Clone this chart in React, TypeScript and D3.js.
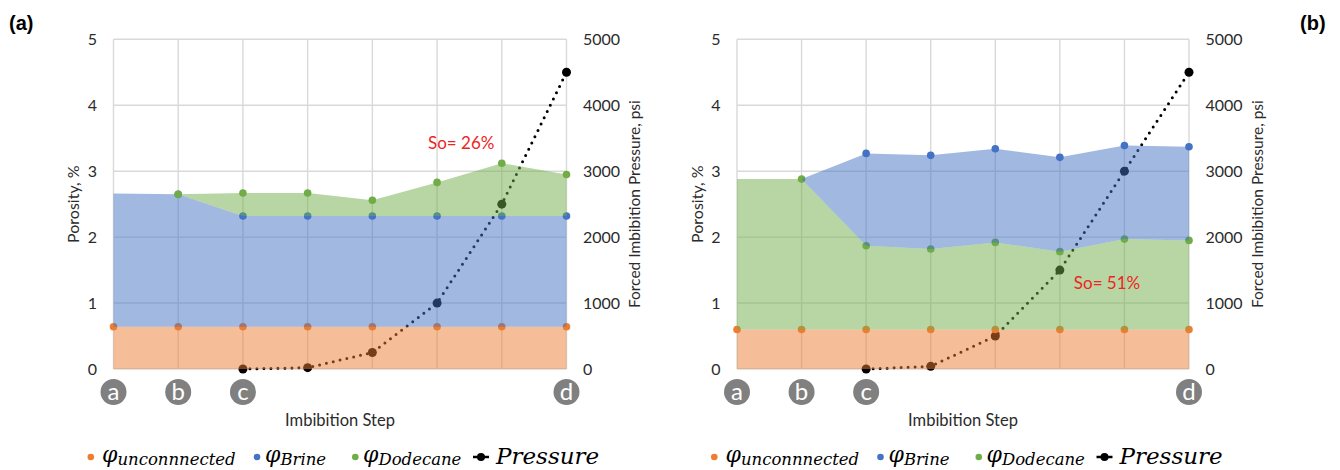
import React from 'react';
import * as d3 from 'd3';

// ---------- data ----------
const steps = ['1', '2', '3', '4', '5', '6', '7', '8'];
const badgeLabels = ['a', 'b', 'c', 'd'];
const badgeSteps = ['1', '2', '3', '8'];
const porosityTicks = [0, 1, 2, 3, 4, 5];
const pressureTicks = [0, 1000, 2000, 3000, 4000, 5000];

// panel (a) — stacked porosity segments, %
const unconnectedA = [0.64, 0.64, 0.64, 0.64, 0.64, 0.64, 0.64, 0.64];
const brineA = [2.02, 2.01, 1.68, 1.68, 1.68, 1.68, 1.68, 1.68];
const dodecaneA = [0, 0, 0.35, 0.35, 0.24, 0.51, 0.8, 0.63];
const pressureA: (number | null)[] = [null, null, 0, 20, 250, 1000, 2500, 4500];
const soLabelA = 'So= 26%';

// panel (b)
const unconnectedB = [0.6, 0.6, 0.6, 0.6, 0.6, 0.6, 0.6, 0.6];
const dodecaneB = [2.28, 2.28, 1.27, 1.22, 1.32, 1.18, 1.37, 1.35];
const brineB = [0, 0, 1.4, 1.42, 1.42, 1.43, 1.42, 1.42];
const pressureB: (number | null)[] = [null, null, 0, 40, 500, 1500, 3000, 4500];
const soLabelB = 'So= 51%';

// ---------- styles ----------
const COLORS: Record<string, string> = {
  unconnected: '#ED7D31',
  brine: '#4472C4',
  dodecane: '#70AD47',
};
const FONT = 'Lato, "Open Sans", sans-serif';
const MATH = '"DejaVu Serif", serif';
const TOP = 39.3;
const BOTTOM = 369;
const LEG_Y = 457;

type PanelProps = {
  left: number;
  right: number;
  order: string[];
  series: Record<string, number[]>;
  markerFrom: Record<string, number>;
  pressure: (number | null)[];
  tag: string;
  tagX: number;
  soLabel: string;
  soStep: string;
  soDx: number;
  soY: number;
};

function Panel(p: PanelProps) {
  const x = d3.scalePoint<string>().domain(steps).range([p.left, p.right]);
  const y = d3.scaleLinear().domain([0, 5]).range([BOTTOM, TOP]);
  const yP = d3.scaleLinear().domain([0, 5000]).range([BOTTOM, TOP]);

  const table = steps.map((s, i) => {
    const row: any = { step: s };
    p.order.forEach((k) => (row[k] = p.series[k][i]));
    return row;
  });
  const stacked = d3.stack<any>().keys(p.order)(table);
  const area = d3
    .area<any>()
    .x((d) => x(d.data.step) as number)
    .y0((d) => y(d[0]))
    .y1((d) => y(d[1]));

  const pts = steps.map((s, i) => ({ s, v: p.pressure[i] }));
  const line = d3
    .line<any>()
    .defined((d) => d.v !== null)
    .x((d) => x(d.s) as number)
    .y((d) => yP(d.v));

  const midY = (TOP + BOTTOM) / 2;
  const L = p.left;

  return (
    <g>
      {/* grid */}
      {porosityTicks.map((t) => (
        <line key={'h' + t} x1={p.left} x2={p.right} y1={y(t)} y2={y(t)} stroke="#d9d9d9" strokeWidth={1.4} />
      ))}
      {steps.map((s) => (
        <line key={'v' + s} x1={x(s)} x2={x(s)} y1={TOP} y2={BOTTOM} stroke="#d9d9d9" strokeWidth={1.4} />
      ))}

      {/* pressure (under areas) */}
      <path d={line(pts) || ''} fill="none" stroke="#000" strokeWidth={3} strokeDasharray="0 7" strokeLinecap="round" />
      {pts
        .filter((d) => d.v !== null)
        .map((d) => (
          <circle key={'p' + d.s} cx={x(d.s)} cy={yP(d.v as number)} r={4.5} fill="#000" />
        ))}

      {/* stacked areas and their markers */}
      {stacked.map((layer) => (
        <g key={layer.key}>
          <path d={area(layer) || ''} fill={COLORS[layer.key]} fillOpacity={0.5} />
          {layer
            .filter((_, i) => i >= p.markerFrom[layer.key])
            .map((d) => (
              <circle key={d.data.step} cx={x(d.data.step)} cy={y(d[1])} r={3.8} fill={COLORS[layer.key]} />
            ))}
        </g>
      ))}

      {/* ticks */}
      {porosityTicks.map((t) => (
        <text key={'l' + t} x={p.left - 16.5} y={y(t)} dy="0.36em" textAnchor="end" fontFamily={FONT} fontSize={16} fill="#2b2b2b">
          {t}
        </text>
      ))}
      {pressureTicks.map((t) => (
        <text key={'r' + t} x={p.right + 16.5} y={yP(t)} dy="0.36em" textAnchor="start" fontFamily={FONT} fontSize={16} fill="#2b2b2b">
          {t}
        </text>
      ))}
      <text transform={`translate(${p.left - 40},${midY}) rotate(-90)`} textAnchor="middle" dy="0.35em" fontFamily={FONT} fontSize={16} fill="#2b2b2b">
        Porosity, %
      </text>
      <text transform={`translate(${p.right + 68.5},${midY}) rotate(-90)`} textAnchor="middle" dy="0.35em" fontFamily={FONT} fontSize={15.5} fill="#2b2b2b">
        Forced Imbibition Pressure, psi
      </text>
      <text x={(p.left + p.right) / 2} y={420} dy="0.35em" textAnchor="middle" fontFamily={FONT} fontSize={16.5} fill="#2b2b2b">
        Imbibition Step
      </text>

      {/* step badges */}
      {badgeLabels.map((b, i) => (
        <g key={b}>
          <circle cx={x(badgeSteps[i])} cy={392} r={13} fill="#808080" />
          <text x={x(badgeSteps[i])} y={392} dy="0.33em" textAnchor="middle" fontFamily={FONT} fontSize={24} fill="#fff">
            {b}
          </text>
        </g>
      ))}

      {/* So annotation */}
      <text x={(x(p.soStep) as number) + p.soDx} y={y(p.soY)} fontFamily={FONT} fontSize={17} fill="#EE2424">
        {p.soLabel}
      </text>

      {/* panel tag */}
      <text x={p.tagX} y={30} fontFamily='"Liberation Sans", Arial, sans-serif' fontWeight="bold" fontSize={20} fill="#000">
        {p.tag}
      </text>

      {/* legend */}
      <g fontFamily={MATH} fontStyle="italic" fill="#000">
        <circle cx={L - 22.7} cy={LEG_Y} r={3.3} fill={COLORS.unconnected} />
        <text x={L - 11.5} y={LEG_Y + 5}>
          <tspan fontSize={22}>φ</tspan>
          <tspan fontSize={16.5} dy={2.5}>unconnnected</tspan>
        </text>
        <circle cx={L + 143.5} cy={LEG_Y} r={3.3} fill={COLORS.brine} />
        <text x={L + 151.5} y={LEG_Y + 5}>
          <tspan fontSize={22}>φ</tspan>
          <tspan fontSize={16.5} dy={2.5}>Brine</tspan>
        </text>
        <circle cx={L + 241.8} cy={LEG_Y} r={3.3} fill={COLORS.dodecane} />
        <text x={L + 249.5} y={LEG_Y + 5}>
          <tspan fontSize={22}>φ</tspan>
          <tspan fontSize={16.5} dy={2.5}>Dodecane</tspan>
        </text>
        <line x1={L + 359.5} x2={L + 375.5} y1={LEG_Y} y2={LEG_Y} stroke="#000" strokeWidth={2.5} />
        <circle cx={L + 367.5} cy={LEG_Y} r={4} fill="#000" />
        <text x={L + 382.5} y={LEG_Y + 6.5} fontSize={23}>
          Pressure
        </text>
      </g>
    </g>
  );
}

export default function App() {
  return (
    <svg width={1340} height={470} style={{ display: 'block', position: 'absolute', left: 0, top: 0, background: '#fff' }}>
      <rect width={1340} height={470} fill="#fff" />
      <Panel
        left={113.5}
        right={566.5}
        order={['unconnected', 'brine', 'dodecane']}
        series={{ unconnected: unconnectedA, brine: brineA, dodecane: dodecaneA }}
        markerFrom={{ unconnected: 0, brine: 1, dodecane: 1 }}
        pressure={pressureA}
        tag="(a)"
        tagX={9}
        soLabel={soLabelA}
        soStep="6"
        soDx={-9}
        soY={3.34}
      />
      <Panel
        left={737}
        right={1189}
        order={['unconnected', 'dodecane', 'brine']}
        series={{ unconnected: unconnectedB, brine: brineB, dodecane: dodecaneB }}
        markerFrom={{ unconnected: 0, brine: 2, dodecane: 1 }}
        pressure={pressureB}
        tag="(b)"
        tagX={1300}
        soLabel={soLabelB}
        soStep="6"
        soDx={14}
        soY={1.21}
      />
    </svg>
  );
}
